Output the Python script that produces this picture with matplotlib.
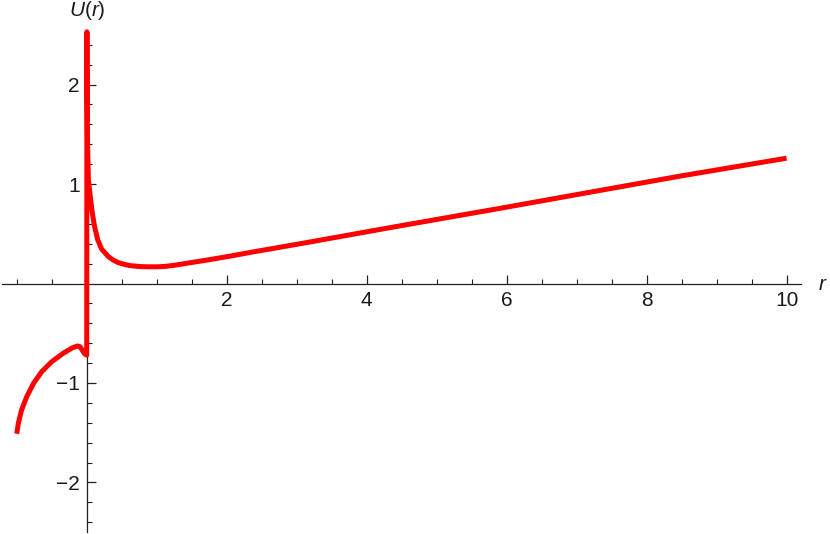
import matplotlib
matplotlib.use("Agg")
import matplotlib.pyplot as plt

# --- data ---
r_neg = [-1.0, -0.977, -0.93, -0.857, -0.76, -0.643, -0.5, -0.334, -0.214,
         -0.134, -0.096, -0.049, -0.024, 0.0]
u_neg = [-1.51, -1.405, -1.27, -1.138, -1.003, -0.886, -0.786, -0.70, -0.65,
         -0.628, -0.635, -0.685, -0.71, -0.72]

r_pos = [0.003, 0.006, 0.012, 0.024, 0.057, 0.08, 0.11, 0.157, 0.214, 0.31,
         0.38, 0.45, 0.55, 0.64, 0.75, 0.88, 1.0, 1.12, 1.25, 1.40, 1.74,
         2.07, 2.38, 3.05, 4.48, 5.9, 7.05, 8.48, 10.0]
u_pos = [2.53, 1.9, 1.4, 1.04, 0.84, 0.71, 0.58, 0.44, 0.345, 0.27,
         0.235, 0.21, 0.19, 0.178, 0.171, 0.168, 0.168, 0.172, 0.183, 0.20,
         0.238, 0.278, 0.318, 0.40, 0.58, 0.755, 0.90, 1.08, 1.26]

x_major = [2, 4, 6, 8, 10]
x_major_labels = ["2", "4", "6", "8", "10"]
x_minor = [-1, -0.5, 0.5, 1, 1.5, 2.5, 3, 3.5, 4.5, 5, 5.5, 6.5, 7, 7.5,
           8.5, 9, 9.5]
y_major = [-2, -1, 1, 2]
y_major_labels = ["\u22122", "\u22121", "1", "2"]
y_minor = [-2.4, -2.2, -1.8, -1.6, -1.4, -1.2, -0.8, -0.6, -0.4, -0.2,
           0.2, 0.4, 0.6, 0.8, 1.2, 1.4, 1.6, 1.8, 2.2, 2.4]

plt.rcParams['font.family'] = ['Liberation Sans', 'DejaVu Sans']
plt.rcParams['mathtext.fontset'] = 'custom'
plt.rcParams['mathtext.rm'] = 'Liberation Sans'
plt.rcParams['mathtext.it'] = 'Liberation Sans:italic'

fig = plt.figure(figsize=(8.30, 5.34), dpi=100)
ax = fig.add_axes([0, 0, 1, 1])
ax.set_xlim(-1.239, 10.62)
ax.set_ylim(-2.518, 2.85)
ax.patch.set_alpha(0)

r_all = r_neg + r_pos
u_all = u_neg + u_pos
ax.plot(r_all, u_all, color='#ff0000', lw=3.6, solid_joinstyle='round',
        solid_capstyle='butt', zorder=3)

for s in ['top', 'right']:
    ax.spines[s].set_visible(False)
ax.spines['left'].set_position(('data', 0))
ax.spines['bottom'].set_position(('data', 0))
ax.spines['left'].set_bounds(-2.5, 2.5)
ax.spines['bottom'].set_bounds(-1.21, 10.21)
for s in ['left', 'bottom']:
    ax.spines[s].set_linewidth(0.9)
    ax.spines[s].set_color('#222222')
    ax.spines[s].set_zorder(2)

ax.set_xticks(x_major)
ax.set_xticklabels(x_major_labels)
ax.set_xticks(x_minor, minor=True)
ax.set_yticks(y_major)
ax.set_yticklabels(y_major_labels)
ax.set_yticks(y_minor, minor=True)

ax.tick_params(axis='both', which='major', direction='in', length=6.3,
               width=0.9, color='#222222', labelsize=15, labelcolor='#1a1a1a')
ax.tick_params(axis='both', which='minor', direction='in', length=3.6,
               width=0.8, color='#222222')
ax.tick_params(axis='x', which='major', pad=5.5)
ax.tick_params(axis='y', which='major', pad=5)

fig.text(87 / 830, 1 - 11 / 534, r'$U(r)$', ha='center', va='center',
         fontsize=15, color='#1a1a1a')
fig.text(823 / 830, 1 - 285 / 534, r'$r$', ha='center', va='center',
         fontsize=15, color='#1a1a1a')

fig.savefig('out.png', dpi=100)
